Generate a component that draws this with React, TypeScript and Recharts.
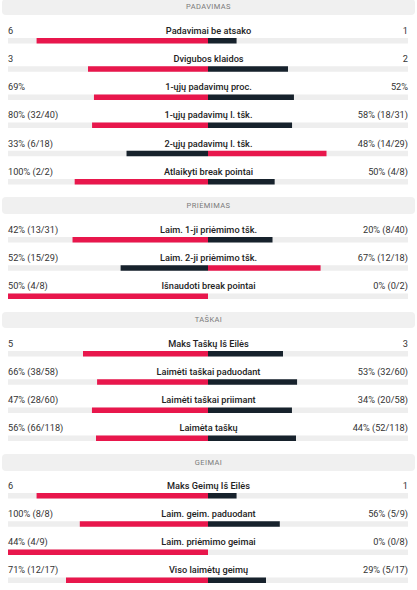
import React from 'react';
import { Bar, BarChart, Cell, LabelList, XAxis, YAxis } from 'recharts';

const RED = '#e8174c';
const DARK = '#17222c';
const TRACK = '#eeeeee';

const ROW = 28.2;
const TOP = 10;

const servingTitle = 'PADAVIMAS';
const servingLabels = [
	'Padavimai be atsako',
	'Dvigubos klaidos',
	'1-ųjų padavimų proc.',
	'1-ųjų padavimų l. tšk.',
	'2-ųjų padavimų l. tšk.',
	'Atlaikyti break pointai',
];
const servingHome = [6, 3, 69, 80, 33, 100];
const servingAway = [1, 2, 52, 58, 48, 50];
const servingHomeText = ['6', '3', '69%', '80% (32/40)', '33% (6/18)', '100% (2/2)'];
const servingAwayText = ['1', '2', '52%', '58% (18/31)', '48% (14/29)', '50% (4/8)'];

const returnTitle = 'PRIĖMIMAS';
const returnLabels = ['Laim. 1-ji priėmimo tšk.', 'Laim. 2-ji priėmimo tšk.', 'Išnaudoti break pointai'];
const returnHome = [42, 52, 50];
const returnAway = [20, 67, 0];
const returnHomeText = ['42% (13/31)', '52% (15/29)', '50% (4/8)'];
const returnAwayText = ['20% (8/40)', '67% (12/18)', '0% (0/2)'];

const pointsTitle = 'TAŠKAI';
const pointsLabels = ['Maks Taškų Iš Eilės', 'Laimėti taškai paduodant', 'Laimėti taškai priimant', 'Laimėta taškų'];
const pointsHome = [5, 66, 47, 56];
const pointsAway = [3, 53, 34, 44];
const pointsHomeText = ['5', '66% (38/58)', '47% (28/60)', '56% (66/118)'];
const pointsAwayText = ['3', '53% (32/60)', '34% (20/58)', '44% (52/118)'];

const gamesTitle = 'GEIMAI';
const gamesLabels = ['Maks Geimų Iš Eilės', 'Laim. geim. paduodant', 'Laim. priėmimo geimai', 'Viso laimėtų geimų'];
const gamesHome = [6, 100, 44, 71];
const gamesAway = [1, 56, 0, 29];
const gamesHomeText = ['6', '100% (8/8)', '44% (4/9)', '71% (12/17)'];
const gamesAwayText = ['1', '56% (5/9)', '0% (0/8)', '29% (5/17)'];

interface SectionProps {
	title: string;
	labels: string[];
	home: number[];
	away: number[];
	homeText: string[];
	awayText: string[];
}

const Header = ({ title }: { title: string }) => (
	<div
		style={{
			height: 16.5,
			margin: '0 2px',
			background: '#f0f0f0',
			borderRadius: 4,
			display: 'flex',
			alignItems: 'center',
			justifyContent: 'center',
			fontFamily: 'Roboto, sans-serif',
			fontSize: 7.5,
			letterSpacing: 0.4,
			color: '#7a7a7a',
		}}
	>
		{title}
	</div>
);

const Section = ({ title, labels, home, away, homeText, awayText }: SectionProps) => {
	const data = labels.map((name, i) => {
		const total = home[i] + away[i];
		return { name, home: -home[i] / total, away: away[i] / total };
	});

	// row texts sit above each bar: home value, stat name, away value
	const renderRowText = (props: any) => {
		const { y, height, index, value } = props;
		const ty = Number(y) + Number(height) / 2 - 10.5;
		return (
			<g fontFamily='Roboto, sans-serif' fontSize={9.2}>
				<text x={8} y={ty} dominantBaseline='central' textAnchor='start' fill='#333'>
					{homeText[index]}
				</text>
				<text x={208.5} y={ty} dominantBaseline='central' textAnchor='middle' fill='#222' fontWeight={500}>
					{value}
				</text>
				<text x={408} y={ty} dominantBaseline='central' textAnchor='end' fill='#333'>
					{awayText[index]}
				</text>
			</g>
		);
	};

	return (
		<div>
			<Header title={title} />
			<div style={{ height: 11.7 - TOP }} />
			<BarChart
				width={417}
				height={labels.length * ROW + TOP}
				data={data}
				layout='vertical'
				stackOffset='sign'
				barSize={5.5}
				margin={{ top: TOP, right: 9, left: 8, bottom: 0 }}
			>
				<XAxis type='number' domain={[-1, 1]} hide />
				<YAxis type='category' dataKey='name' hide />
				<Bar dataKey='home' stackId='s' background={{ fill: TRACK }} isAnimationActive={false}>
					{data.map((_, i) => (
						<Cell key={i} fill={home[i] > away[i] ? RED : DARK} />
					))}
					<LabelList dataKey='name' content={renderRowText} />
				</Bar>
				<Bar dataKey='away' stackId='s' isAnimationActive={false}>
					{data.map((_, i) => (
						<Cell key={i} fill={away[i] > home[i] ? RED : DARK} />
					))}
				</Bar>
			</BarChart>
			<div style={{ height: 1.5 }} />
		</div>
	);
};

const App = () => {
	return (
		<div style={{ position: 'absolute', top: -1.5, left: 0, width: 417, background: '#fff' }}>
			<Section
				title={servingTitle}
				labels={servingLabels}
				home={servingHome}
				away={servingAway}
				homeText={servingHomeText}
				awayText={servingAwayText}
			/>
			<Section
				title={returnTitle}
				labels={returnLabels}
				home={returnHome}
				away={returnAway}
				homeText={returnHomeText}
				awayText={returnAwayText}
			/>
			<Section
				title={pointsTitle}
				labels={pointsLabels}
				home={pointsHome}
				away={pointsAway}
				homeText={pointsHomeText}
				awayText={pointsAwayText}
			/>
			<Section
				title={gamesTitle}
				labels={gamesLabels}
				home={gamesHome}
				away={gamesAway}
				homeText={gamesHomeText}
				awayText={gamesAwayText}
			/>
		</div>
	);
};

export default App;
